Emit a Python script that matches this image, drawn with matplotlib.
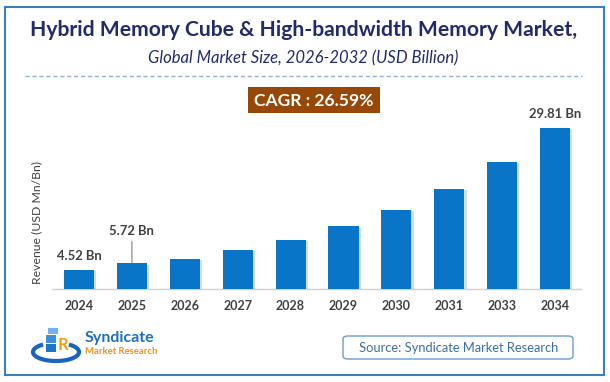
import matplotlib
matplotlib.use("Agg")
import matplotlib.pyplot as plt
from matplotlib.patches import Rectangle, FancyBboxPatch, Arc
import matplotlib.patheffects as pe

years = ["2024", "2025", "2026", "2027", "2028", "2029", "2030", "2031", "2033", "2034"]
values = [4.52, 5.72, 6.48, 8.14, 9.92, 12.29, 15.26, 18.95, 23.76, 29.81]
labeled = {0: "4.52 Bn", 1: "5.72 Bn", 9: "29.81 Bn"}
title = "Hybrid Memory Cube & High-bandwidth Memory Market,"
subtitle = "Global Market Size, 2026-2032 (USD Billion)"
cagr = "CAGR : 26.59%"
ylabel = "Revenue (USD Mn/Bn)"
source = "Source: Syndicate Market Research"

W, H = 610, 382
fig = plt.figure(figsize=(W / 100, H / 100), dpi=100)
fig.patch.set_facecolor("white")
FONT = "Lato"

def px(x, y):
    return x / W, 1 - y / H

# outer frame
fig.patches.append(Rectangle(px(5, 375), 599 / W, 368 / H, transform=fig.transFigure,
                             fill=False, edgecolor="#3C7FC1", linewidth=1.5))

# title & subtitle
fig.text(*px(304, 30), title, ha="center", va="center", fontsize=15.2,
         fontweight="bold", color="#222A6E", family=FONT)
fig.text(*px(303, 58), subtitle, ha="center", va="center", fontsize=12,
         style="italic", color="#222A6E", family=FONT)
fig.add_artist(plt.Line2D([25 / W, 582 / W], [1 - 76 / H] * 2, transform=fig.transFigure,
                          color="#8FB0D8", linewidth=1, linestyle=(0, (3, 2))))

# CAGR box
fig.patches.append(Rectangle(px(248, 113), 132 / W, 26 / H, transform=fig.transFigure,
                             facecolor="#974706", edgecolor="none"))
fig.text(*px(314, 100.5), cagr, ha="center", va="center", fontsize=12.6,
         fontweight="bold", color="white", family=FONT)

# main axes
x0, x1 = 52, 581
ytop, ybase = 120, 289
ax = fig.add_axes([x0 / W, 1 - ybase / H, (x1 - x0) / W, (ybase - ytop) / H])
ax.set_facecolor("none")
xs = list(range(len(years)))
bars = ax.bar(xs, values, width=0.57, color="#0875C9", zorder=3)
for b in bars:
    b.set_path_effects([pe.SimplePatchShadow(offset=(1.6, -1.0), shadow_rgbFace="#999999", alpha=0.35),
                        pe.Normal()])
ax.set_xlim(-0.51, 9.49)
ybot = 1.14
ax.set_ylim(ybot, ybot + (ybase - ytop) / 5.615)
for s in ["top", "right", "left"]:
    ax.spines[s].set_visible(False)
ax.spines["bottom"].set_color("#D0D0D0")
ax.spines["bottom"].set_linewidth(1)
ax.set_yticks([])
ax.set_xticks(xs)
ax.set_xticklabels(years, fontsize=9, fontweight="bold", color="#404040", family=FONT)
ax.tick_params(axis="x", length=0, pad=8)

for i, lab in labeled.items():
    if i == 1:
        ax.annotate(lab, xy=(xs[i], values[i]), xytext=(0, 23.5), textcoords="offset points",
                    ha="center", va="center", fontsize=9.4, fontweight="bold", color="#404040",
                    family=FONT, arrowprops=dict(arrowstyle="-", color="#808080", lw=0.8,
                                                 shrinkA=1.5, shrinkB=0))
    else:
        ax.annotate(lab, xy=(xs[i], values[i]), xytext=(0, 10), textcoords="offset points",
                    ha="center", va="center", fontsize=9.4, fontweight="bold", color="#404040",
                    family=FONT)

fig.text(*px(37, 222), ylabel, rotation=90, ha="center", va="center", fontsize=8.8,
         color="#404040", family=FONT)

# source box
fig.patches.append(FancyBboxPatch(px(343, 359), 230 / W, 23 / H, transform=fig.transFigure,
                                  boxstyle="round,pad=0,rounding_size=0.008",
                                  facecolor="white", edgecolor="#6A9BD0", linewidth=1))
fig.text(*px(459, 347.5), source, ha="center", va="center", fontsize=9.3,
         color="#3A6EA5", family=FONT)

# logo (approximation)
lax = fig.add_axes([30 / W, 1 - 372 / H, 60 / W, 50 / H])
lax.set_xlim(0, 60)
lax.set_ylim(0, 50)
lax.axis("off")
lax.add_patch(Arc((26, 20), 46, 18, theta1=150, theta2=390, color="#1565C0", lw=3))
lax.add_patch(Rectangle((16, 20), 10, 8, facecolor="#1E74C8"))
lax.add_patch(Rectangle((16, 29), 10, 8, facecolor="#3D8FDB"))
lax.add_patch(Rectangle((18, 38), 10, 6, facecolor="#6FB3EE"))
lax.text(33, 27, "R", fontsize=12, fontweight="bold", color="#F39C12", family=FONT,
         ha="center", va="center")
fig.text(*px(85, 338), "Syndicate", ha="left", va="center", fontsize=11.5,
         fontweight="bold", color="#1E6FBF", family=FONT)
fig.text(*px(85, 351), "Market Research", ha="left", va="center", fontsize=6.8,
         fontweight="bold", color="#F0901E", family=FONT)

fig.savefig("out.png", dpi=100, facecolor="white")
